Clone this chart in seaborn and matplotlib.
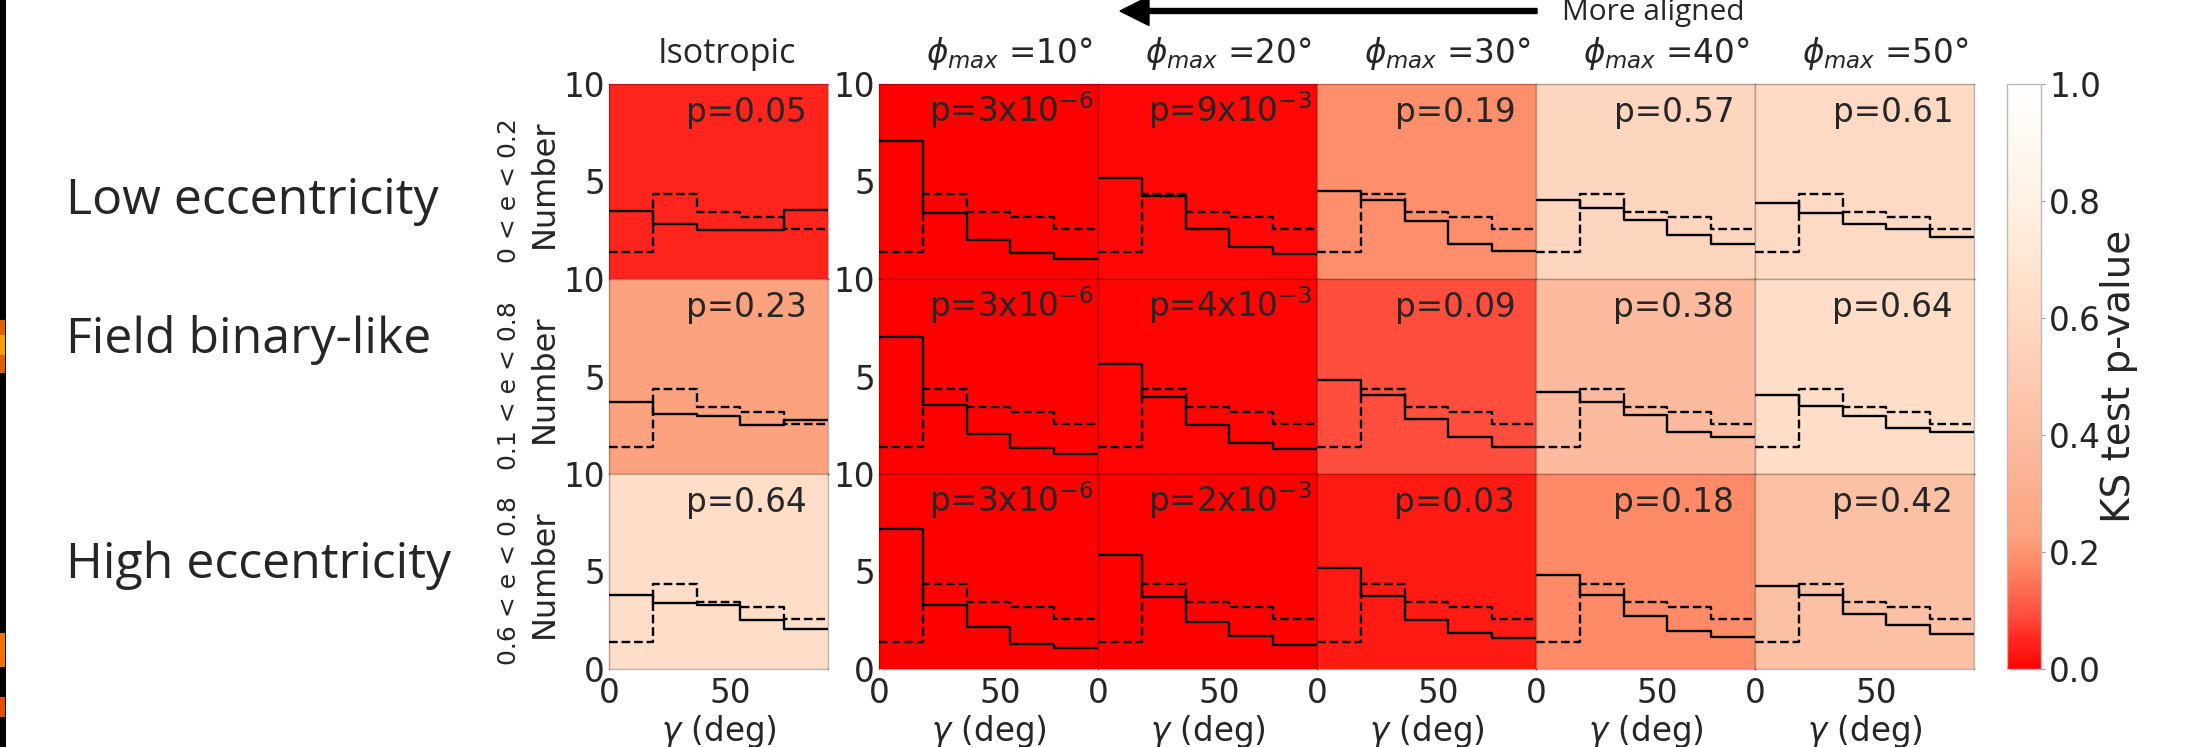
import numpy as np
import pandas as pd
import matplotlib
matplotlib.use("Agg")
import matplotlib.pyplot as plt
import seaborn as sns
from matplotlib.colors import LinearSegmentedColormap, Normalize
from matplotlib.cm import ScalarMappable
from matplotlib.patches import FancyArrow, Rectangle

sns.set_style("white")
plt.rcParams['font.family'] = ['DejaVu Sans']
plt.rcParams['mathtext.fontset'] = 'dejavusans'

# ---------------- data ----------------
bin_edges = [0, 18, 36, 54, 72, 90]
col_titles = ["Isotropic", r"$\phi_{max}$ =10°", r"$\phi_{max}$ =20°",
              r"$\phi_{max}$ =30°", r"$\phi_{max}$ =40°", r"$\phi_{max}$ =50°"]
row_names = ["Low eccentricity", "Field binary-like", "High eccentricity"]
e_ranges = ["0 < e < 0.2", "0.1 < e < 0.8", "0.6 < e < 0.8"]

# reference (isotropic expectation) histogram, dashed
iso_reference = [1.41, 4.36, 3.42, 3.20, 2.55]

# KS-test p-values per row (columns: isotropic, 10, 20, 30, 40, 50 deg)
p_low = [0.05, 3e-6, 9e-3, 0.19, 0.57, 0.61]
p_field = [0.23, 3e-6, 4e-3, 0.09, 0.38, 0.64]
p_high = [0.64, 3e-6, 2e-3, 0.03, 0.18, 0.42]

# observed histograms (solid), per row, per column
hist_low = [
    [3.50, 2.80, 2.50, 2.50, 3.56],
    [7.08, 3.38, 2.01, 1.35, 1.03],
    [5.20, 4.24, 2.55, 1.62, 1.26],
    [4.53, 4.06, 3.00, 1.78, 1.43],
    [4.04, 3.62, 3.04, 2.26, 1.82],
    [3.91, 3.40, 2.84, 2.55, 2.17],
]
hist_field = [
    [3.69, 3.06, 2.98, 2.51, 2.75],
    [7.02, 3.52, 2.03, 1.32, 1.03],
    [5.63, 3.95, 2.51, 1.59, 1.30],
    [4.80, 4.06, 2.84, 1.90, 1.41],
    [4.22, 3.68, 3.02, 2.17, 1.90],
    [4.04, 3.48, 2.98, 2.38, 2.13],
]
hist_high = [
    [3.77, 3.37, 3.27, 2.51, 2.07],
    [7.16, 3.27, 2.13, 1.30, 1.08],
    [5.86, 3.71, 2.42, 1.68, 1.24],
    [5.18, 3.75, 2.50, 1.86, 1.57],
    [4.84, 3.81, 2.71, 1.93, 1.66],
    [4.24, 3.81, 2.82, 2.28, 1.78],
]
p_rows = [p_low, p_field, p_high]
hist_rows = [hist_low, hist_field, hist_high]

# colour map for the p-value
cmap_nodes = [0.0, 0.03, 0.05, 0.09, 0.18, 0.23, 0.38, 0.57, 0.64, 0.8, 1.0]
cmap_colors = ["#ff0000", "#ff1c16", "#ff261e", "#ff4e3e", "#fe8a68", "#fca380",
               "#fcba9e", "#fed5be", "#fedec8", "#fef2e4", "#ffffff"]
cmap = LinearSegmentedColormap.from_list("ks", list(zip(cmap_nodes, cmap_colors)))
norm = Normalize(0, 1)

OVERLAY_FONT = ["Open Sans", "Lato", "DejaVu Sans"]

# ---------------- layout ----------------
W, H = 2185, 747
fig = plt.figure(figsize=(W / 100, H / 100), dpi=100)

def px_axes(x, y_top, w, h):
    return fig.add_axes([x / W, (H - y_top - h) / H, w / W, h / H])

col_left = [609, 879, 1098, 1317, 1536, 1755]
col_w = 219
row_top = [84, 279, 474]
row_h = 195

centers = [(a + b) / 2 for a, b in zip(bin_edges[:-1], bin_edges[1:])]

def p_label(p):
    if p >= 0.01:
        return f"p={p:.2f}", 0.905
    m, e = f"{p:.0e}".split("e")
    return rf"p={m}x10$^{{{int(e)}}}$", 0.978

for r in range(3):
    for c in range(6):
        ax = px_axes(col_left[c], row_top[r], col_w, row_h)
        p = p_rows[r][c]
        ax.set_facecolor(cmap(norm(p)))
        df = pd.DataFrame({"gamma": centers,
                           "obs": hist_rows[r][c],
                           "iso": iso_reference})
        sns.histplot(data=df, x="gamma", weights="obs", bins=bin_edges,
                     element="step", fill=False, color="black",
                     linewidth=1.7, ax=ax)
        sns.histplot(data=df, x="gamma", weights="iso", bins=bin_edges,
                     element="step", fill=False, color="black",
                     linewidth=1.7, linestyle="--", ax=ax)
        ax.set_xlim(0, 90)
        ax.set_ylim(0, 10)
        ax.set_xlabel("")
        ax.set_ylabel("")
        ax.set_xticks([0, 50])
        ax.set_yticks([0, 5, 10] if r == 2 else [5, 10])
        ax.tick_params(direction="in", length=3, width=0.8, color="#999999",
                       labelsize=23.5, pad=3)
        ax.tick_params(axis="x", pad=6)
        if c > 1:
            ax.tick_params(axis="y", labelleft=False)
        if r < 2:
            ax.tick_params(axis="x", labelbottom=False)
        else:
            ax.set_xlabel(r"$\gamma$ (deg)", fontsize=23.5, labelpad=2)
        for s in ax.spines.values():
            s.set_color((0, 0, 0, 0.28))
            s.set_linewidth(1.0)
        txt, xr = p_label(p)
        ax.text(xr, 0.805, txt, transform=ax.transAxes, ha="right",
                va="baseline", fontsize=23.5)
        if r == 0:
            if c == 0:
                ax.text(0.5 + 8 / col_w, 1 + 21 / row_h, col_titles[c],
                        transform=ax.transAxes, ha="center", va="baseline",
                        fontsize=24.5, family=OVERLAY_FONT)
            else:
                ax.text(0.5 + 21 / col_w, 1 + 21 / row_h, col_titles[c],
                        transform=ax.transAxes, ha="center", va="baseline",
                        fontsize=23.5)

# row y-labels
for r in range(3):
    yc = row_top[r] + row_h / 2
    fig.text(544 / W, (H - yc - 2) / H, "Number", rotation=90, ha="center",
             va="center", fontsize=23)
    fig.text(509 / W, (H - yc - 9) / H, e_ranges[r], rotation=90, ha="center",
             va="center", fontsize=18)

# left row names
for name, base in zip(row_names, [214, 353, 578]):
    fig.text(66 / W, (H - base) / H, name, ha="left", va="baseline",
             fontsize=36, family=OVERLAY_FONT)

# colorbar
cax = px_axes(2007, 84, 34, 585)
cb = fig.colorbar(ScalarMappable(norm=norm, cmap=cmap), cax=cax)
cb.set_ticks([0.0, 0.2, 0.4, 0.6, 0.8, 1.0])
cb.ax.tick_params(labelsize=23.5, length=3, color="#999999", pad=3)
cb.outline.set_edgecolor("#bbbbbb")
cb.outline.set_linewidth(1.0)
cax.text((2119 - 2007) / 34, 0.5, "KS test p-value", rotation=90,
         ha="center", va="center", transform=cax.transAxes, fontsize=28)

# arrow + "More aligned"
fig.add_artist(FancyArrow(1537, H - 11, -(1537 - 1120), 0, width=5,
                          head_width=29, head_length=29,
                          length_includes_head=True, color="black",
                          transform=None))
fig.text(1562 / W, (H - 20) / H, "More aligned", ha="left", va="baseline",
         fontsize=21.5, family=OVERLAY_FONT)

# cropped black strip at the left edge with orange glints
fig.add_artist(Rectangle((0, 0), 6 / W, 1, transform=fig.transFigure,
                         color="black", lw=0))
for y0, y1, col in [(320, 373, "#e06000"), (335, 355, "#ffa000"),
                    (633, 667, "#f07000"), (697, 717, "#e05000")]:
    fig.add_artist(Rectangle((0, (H - y1) / H), 5 / W, (y1 - y0) / H,
                             transform=fig.transFigure, color=col, lw=0))

fig.savefig("out.png", dpi=100)
